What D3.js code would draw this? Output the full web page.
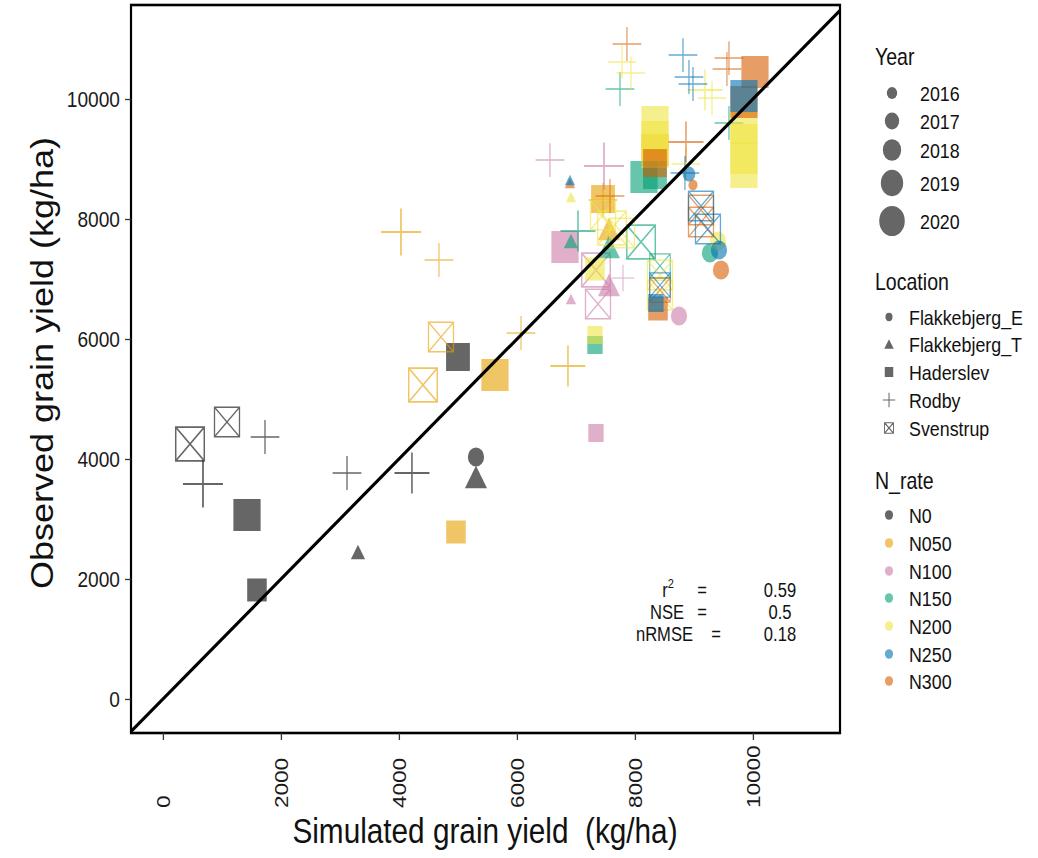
<!DOCTYPE html>
<html>
<head>
<meta charset="utf-8">
<script src="https://cdn.jsdelivr.net/npm/d3@7.9.0/dist/d3.min.js"></script>
<style>
  body { margin: 0; background: #fff; }
  svg { display: block; font-family: "Liberation Sans", Arial, sans-serif; }
</style>
</head>
<body>
<svg id="chart" width="1038" height="858"></svg>
<script>
// === Data ===
const simulated = [
  458, 1085, 1729, 678, 1424, 1593, 3119, 4220, 5305, 5305, 3305, 5000,
  4966, 5627, 4407, 4712, 4034, 4678, 6068, 6864, 7458, 7458, 7559, 8339,
  6814, 6559, 7475, 6915, 7559, 7339, 7373, 7797, 7339, 8746,
  6915, 7322, 7746, 9593, 8153, 8339, 7034, 8102, 8424, 9271, 7559,
  6915, 7322, 7322, 7780, 7932, 9186, 9305, 9847, 9847, 9847, 9847, 8339, 8339, 8339, 8864, 7458, 7610, 7780, 8424, 8424, 9407,
  6898, 7864, 9593, 9559, 10034, 9847, 8983, 8864, 7576, 8390, 9119, 9119, 9458, 8424, 8339,
  6898, 8814, 8915, 8983, 9847, 8915, 8847, 8424, 8356, 9119, 9237, 9424
];
const observed = [
  4250, 4617, 4367, 3583, 3067, 1817, 3767, 3767, 4033, 3700, 2450, 5700,
  2783, 5400, 5233, 6033, 7783, 7317, 6100, 5550, 8333, 8317, 7833, 9150,
  7533, 8983, 8883, 6667, 6900, 7150, 6583, 7017, 4433, 6383,
  7633, 5900, 10167, 9600, 8700, 8733, 7800, 7617, 7217, 7433, 7533,
  8367, 7167, 6067, 10617, 10433, 10150, 10017, 9517, 9317, 9017, 8783, 9617, 9367, 9117, 8917, 8067, 7850, 7767, 7067, 6733, 7633,
  8600, 10917, 10683, 10500, 10450, 9950, 8567, 9283, 8383, 6500, 8150, 7950, 7150, 6817, 8933,
  8650, 10733, 10367, 10250, 10050, 8750, 8767, 6900, 6600, 8217, 7833, 7483
];
const site = [
  'Svenstrup', 'Svenstrup', 'Rodby', 'Rodby', 'Haderslev', 'Haderslev', 'Rodby', 'Rodby', 'Flakkebjerg_E', 'Flakkebjerg_T', 'Flakkebjerg_T', 'Haderslev',
  'Haderslev', 'Haderslev', 'Svenstrup', 'Svenstrup', 'Rodby', 'Rodby', 'Rodby', 'Rodby', 'Haderslev', 'Rodby', 'Flakkebjerg_T', 'Haderslev',
  'Haderslev', 'Rodby', 'Rodby', 'Flakkebjerg_T', 'Flakkebjerg_T', 'Svenstrup', 'Svenstrup', 'Rodby', 'Haderslev', 'Flakkebjerg_E',
  'Flakkebjerg_T', 'Haderslev', 'Rodby', 'Rodby', 'Haderslev', 'Haderslev', 'Rodby', 'Svenstrup', 'Svenstrup', 'Flakkebjerg_E', 'Flakkebjerg_T',
  'Flakkebjerg_T', 'Haderslev', 'Haderslev', 'Rodby', 'Rodby', 'Rodby', 'Rodby', 'Haderslev', 'Haderslev', 'Haderslev', 'Haderslev', 'Haderslev', 'Haderslev', 'Haderslev', 'Rodby', 'Svenstrup', 'Svenstrup', 'Svenstrup', 'Svenstrup', 'Svenstrup', 'Flakkebjerg_E',
  'Flakkebjerg_T', 'Rodby', 'Rodby', 'Rodby', 'Haderslev', 'Haderslev', 'Flakkebjerg_E', 'Rodby', 'Rodby', 'Haderslev', 'Svenstrup', 'Svenstrup', 'Flakkebjerg_E', 'Svenstrup', 'Haderslev',
  'Flakkebjerg_T', 'Rodby', 'Rodby', 'Rodby', 'Haderslev', 'Flakkebjerg_E', 'Rodby', 'Svenstrup', 'Haderslev', 'Svenstrup', 'Svenstrup', 'Flakkebjerg_E'
];
const nRate = [
  'N0', 'N0', 'N0', 'N0', 'N0', 'N0', 'N0', 'N0', 'N0', 'N0', 'N0', 'N0',
  'N050', 'N050', 'N050', 'N050', 'N050', 'N050', 'N050', 'N050', 'N050', 'N050', 'N050', 'N050',
  'N100', 'N100', 'N100', 'N100', 'N100', 'N100', 'N100', 'N100', 'N100', 'N100',
  'N150', 'N150', 'N150', 'N150', 'N150', 'N150', 'N150', 'N150', 'N150', 'N150', 'N150',
  'N200', 'N200', 'N200', 'N200', 'N200', 'N200', 'N200', 'N200', 'N200', 'N200', 'N200', 'N200', 'N200', 'N200', 'N200', 'N200', 'N200', 'N200', 'N200', 'N200', 'N200',
  'N300', 'N300', 'N300', 'N300', 'N300', 'N300', 'N300', 'N300', 'N300', 'N300', 'N300', 'N300', 'N300', 'N300', 'N300',
  'N250', 'N250', 'N250', 'N250', 'N250', 'N250', 'N250', 'N250', 'N250', 'N250', 'N250', 'N250'
];
const year = [
  2020, 2019, 2018, 2020, 2020, 2018, 2018, 2019, 2018, 2019, 2017, 2019,
  2018, 2020, 2020, 2019, 2020, 2018, 2018, 2019, 2019, 2018, 2019, 2020,
  2020, 2018, 2020, 2016, 2019, 2020, 2019, 2017, 2017, 2018,
  2017, 2017, 2018, 2018, 2020, 2019, 2019, 2020, 2018, 2018, 2019,
  2016, 2018, 2017, 2018, 2018, 2019, 2018, 2020, 2020, 2020, 2020, 2020, 2020, 2020, 2018, 2019, 2020, 2019, 2019, 2019, 2018,
  2016, 2018, 2018, 2018, 2020, 2020, 2016, 2019, 2018, 2018, 2019, 2019, 2018, 2018, 2019,
  2016, 2018, 2018, 2018, 2020, 2017, 2018, 2018, 2017, 2019, 2019, 2018
];

const years = [2016, 2017, 2018, 2019, 2020];
const sites = ['Flakkebjerg_E', 'Flakkebjerg_T', 'Haderslev', 'Rodby', 'Svenstrup'];
const nRates = ['N0', 'N050', 'N100', 'N150', 'N200', 'N250', 'N300'];
const xTicks = [0, 2000, 4000, 6000, 8000, 10000];
const yTicks = [0, 2000, 4000, 6000, 8000, 10000];
const statLabels = ['r', 'NSE', 'nRMSE'];
const statValues = ['0.59', '0.5', '0.18'];

// === Layout ===
// the original picture is squeezed horizontally, so draw in a wider frame and squeeze it
const SX = 0.85;
const lx = (px) => px / SX;

const svg = d3.select('#chart');
const root = svg.append('g').attr('transform', `scale(${SX},1)`);

const panel = { left: lx(131), right: lx(840), top: 5, bottom: 733 };
const x = d3.scaleLinear().domain([-542, 11475]).range([panel.left, panel.right]);
const y = d3.scaleLinear().domain([-567, 11567]).range([panel.bottom, panel.top]);

const nColor = d3.scaleOrdinal().domain(nRates)
  .range(['#000000', '#E69F00', '#CC79A7', '#009E73', '#F0E442', '#0072B2', '#D55E00']);
const side = d3.scaleOrdinal().domain(years).range([13, 18, 23, 28, 32]);
const ALPHA = 0.6;

// === Marks ===
function drawMark(g, shape, s, color) {
  if (shape === 'Flakkebjerg_E') {
    g.append('circle').attr('r', s * 0.83 / 2)
      .attr('fill', color).attr('fill-opacity', ALPHA);
  } else if (shape === 'Flakkebjerg_T') {
    const a = s * 0.93, h = a * 0.866;
    g.append('path').attr('d', `M${-a / 2},${h / 2}L${a / 2},${h / 2}L0,${-h / 2}Z`)
      .attr('fill', color).attr('fill-opacity', ALPHA);
  } else if (shape === 'Haderslev') {
    g.append('rect').attr('x', -s / 2).attr('y', -s / 2).attr('width', s).attr('height', s)
      .attr('fill', color).attr('fill-opacity', ALPHA);
  } else if (shape === 'Rodby') {
    const L = s * 1.47;
    g.append('path').attr('d', `M${-L / 2},0H${L / 2}M0,${-L / 2}V${L / 2}`)
      .attr('fill', 'none').attr('stroke', color).attr('stroke-opacity', ALPHA)
      .attr('stroke-width', Math.max(1.2, s * 0.065));
  } else {
    const b = s * 1.05;
    g.append('path')
      .attr('d', `M${-b / 2},${-b / 2}H${b / 2}V${b / 2}H${-b / 2}Z` +
        `M${-b / 2},${-b / 2}L${b / 2},${b / 2}M${b / 2},${-b / 2}L${-b / 2},${b / 2}`)
      .attr('fill', 'none').attr('stroke', color).attr('stroke-opacity', ALPHA)
      .attr('stroke-width', Math.max(1.1, s * 0.055));
  }
}

root.append('clipPath').attr('id', 'clip')
  .append('rect')
  .attr('x', panel.left).attr('y', panel.top)
  .attr('width', panel.right - panel.left).attr('height', panel.bottom - panel.top);

const plot = root.append('g').attr('clip-path', 'url(#clip)');

const points = simulated.map((d, i) => ({
  sim: d, obs: observed[i], loc: site[i], n: nRate[i], yr: year[i]
}));

plot.selectAll('g.pt')
  .data(points)
  .join('g')
  .attr('class', 'pt')
  .attr('transform', (d) => `translate(${x(d.sim)},${y(d.obs)})`)
  .each(function (d) {
    drawMark(d3.select(this), d.loc, side(d.yr), nColor(d.n));
  });

// 1:1 line
const lo = x.domain()[0], hi = y.domain()[1];
plot.append('line')
  .attr('x1', x(lo)).attr('y1', y(lo))
  .attr('x2', x(hi)).attr('y2', y(hi))
  .attr('stroke', '#000').attr('stroke-width', 3.4);

// panel frame
root.append('rect')
  .attr('x', panel.left).attr('y', panel.top)
  .attr('width', panel.right - panel.left).attr('height', panel.bottom - panel.top)
  .attr('fill', 'none').attr('stroke', '#000').attr('stroke-width', 2.6);

// === Axes ===
const fmt = d3.format('d');
const yAxis = root.append('g')
  .attr('transform', `translate(${panel.left},0)`)
  .call(d3.axisLeft(y).tickValues(yTicks).tickFormat(fmt).tickSize(7).tickSizeOuter(0).tickPadding(6));
yAxis.select('.domain').remove();
yAxis.selectAll('line').attr('stroke', '#333').attr('stroke-width', 1.3);
yAxis.selectAll('text')
  .attr('font-size', 22.5).attr('fill', '#1a1a1a')
  .attr('font-family', '"Liberation Sans", Arial, sans-serif');

const xAxis = root.append('g')
  .attr('transform', `translate(0,${panel.bottom})`)
  .call(d3.axisBottom(x).tickValues(xTicks).tickFormat(fmt).tickSize(7).tickSizeOuter(0));
xAxis.select('.domain').remove();
xAxis.selectAll('line').attr('stroke', '#333').attr('stroke-width', 1.5);
xAxis.selectAll('text')
  .attr('font-size', 22.5).attr('fill', '#1a1a1a')
  .attr('font-family', '"Liberation Sans", Arial, sans-serif')
  .attr('transform', 'rotate(-90)')
  .attr('text-anchor', 'start')
  .attr('x', -(808 - panel.bottom))
  .attr('y', 0)
  .attr('dy', '0.36em');

root.append('text')
  .attr('x', lx(485)).attr('y', 843)
  .attr('text-anchor', 'middle').attr('font-size', 35).attr('fill', '#111')
  .style('white-space', 'pre')
  .text('Simulated grain yield  (kg/ha)');

root.append('text')
  .attr('transform', `translate(${lx(53)},${363}) rotate(-90)`)
  .attr('text-anchor', 'middle').attr('font-size', 36).attr('fill', '#111')
  .text('Observed grain yield (kg/ha)');

// === Fit statistics ===
const statY = [597, 619, 641];
const stats = root.append('g').attr('font-size', 19.5).attr('fill', '#111');
statLabels.forEach((lab, i) => {
  const t = stats.append('text').attr('x', lx(i === 2 ? 693 : (i === 1 ? 684 : 674)))
    .attr('y', statY[i]).attr('text-anchor', 'end').text(lab);
  if (i === 0) t.append('tspan').attr('font-size', 13).attr('dy', -9).text('2');
  stats.append('text').attr('x', lx(i === 2 ? 716 : 702)).attr('y', statY[i])
    .attr('text-anchor', 'middle').text('=');
  stats.append('text').attr('x', lx(780)).attr('y', statY[i])
    .attr('text-anchor', 'middle').text(statValues[i]);
});

// === Legends ===
const legend = root.append('g').attr('fill', '#111');
const legLeft = lx(875);

legend.append('text').attr('x', legLeft).attr('y', 65).attr('font-size', 23).text('Year');
const yearY = [93, 121, 150, 183, 221];
years.forEach((yr, i) => {
  legend.append('circle').attr('cx', lx(892)).attr('cy', yearY[i])
    .attr('r', side(yr) * 0.47).attr('fill', '#000').attr('fill-opacity', ALPHA);
  legend.append('text').attr('x', lx(920)).attr('y', yearY[i]).attr('dy', '0.36em')
    .attr('font-size', 21).text(yr);
});

legend.append('text').attr('x', legLeft).attr('y', 290).attr('font-size', 23).text('Location');
const locY = [317, 344, 372, 400, 428];
const locSide = [10, 12, 10, 10, 10];
sites.forEach((loc, i) => {
  const g = legend.append('g').attr('transform', `translate(${lx(889)},${locY[i]})`);
  drawMark(g, loc, locSide[i], '#000');
  legend.append('text').attr('x', lx(909)).attr('y', locY[i]).attr('dy', '0.36em')
    .attr('font-size', 21).text(loc);
});

legend.append('text').attr('x', legLeft).attr('y', 489).attr('font-size', 23).text('N_rate');
const nY = [515, 543, 571, 598, 626, 654, 681];
nRates.forEach((n, i) => {
  legend.append('circle').attr('cx', lx(889)).attr('cy', nY[i]).attr('r', 4.8)
    .attr('fill', nColor(n)).attr('fill-opacity', ALPHA);
  legend.append('text').attr('x', lx(909)).attr('y', nY[i]).attr('dy', '0.36em')
    .attr('font-size', 21).text(n);
});
</script>
</body>
</html>
